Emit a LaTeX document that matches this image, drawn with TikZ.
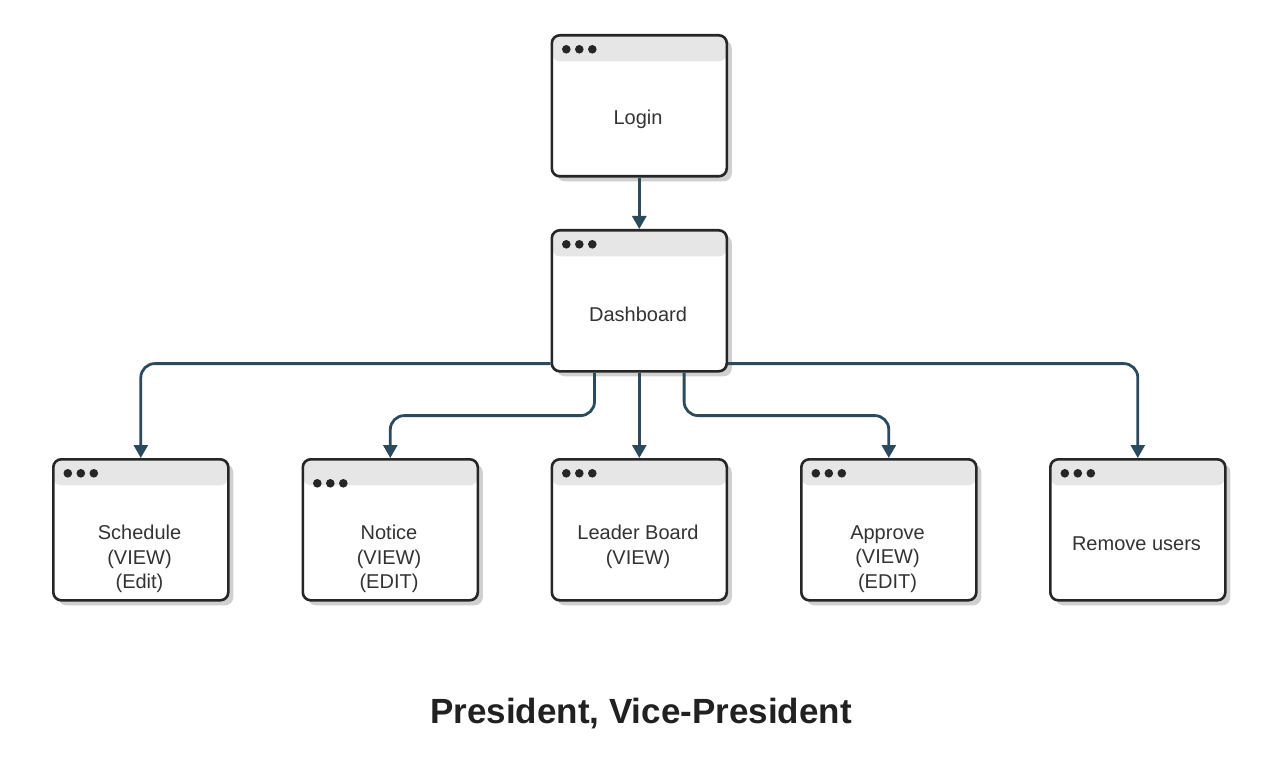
\documentclass[tikz,border=0pt]{standalone}
\usepackage{fontspec}
\setmainfont{Liberation Sans}
\usetikzlibrary{arrows.meta,shadows}
\definecolor{edgec}{HTML}{2C4A5E}
\definecolor{hdr}{HTML}{E6E6E6}
\definecolor{bord}{HTML}{262626}
\definecolor{txt}{HTML}{333333}
\definecolor{shd}{HTML}{D0D0D0}
\begin{document}
\begin{tikzpicture}[x=1pt,y=-1pt,
  win/.style={draw=bord, line width=2.6pt, fill=white, rounded corners=8pt,
    minimum width=175pt, minimum height=141pt, inner sep=0pt, anchor=north west,
    drop shadow={shadow xshift=5pt, shadow yshift=-5pt, fill=shd, opacity=1},
    path picture={
      \fill[hdr] (path picture bounding box.north west) rectangle ([yshift=-26pt]path picture bounding box.north east);
      \fill[bord] ([xshift=14.5pt,yshift=-#1pt]path picture bounding box.north west) circle (4.3pt);
      \fill[bord] ([xshift=27.5pt,yshift=-#1pt]path picture bounding box.north west) circle (4.3pt);
      \fill[bord] ([xshift=40.5pt,yshift=-#1pt]path picture bounding box.north west) circle (4.3pt);
    }},
  win/.default=14,
  lbl/.style={font=\fontsize{20}{24.5}\selectfont, text=txt, align=center, inner sep=0pt},
  conn/.style={draw=edgec, line width=2.8pt, rounded corners=14pt,
    -{Triangle[width=14pt,length=13pt]}},
]
\useasboundingbox[fill=white] (0,0) rectangle (1284,759);

\node[win] (login) at (550.5,34) {};
\node[win] (dash) at (550.5,229) {};
\node[win] (sched) at (52,458) {};
\node[win=24] (notice) at (301.5,458) {};
\node[win] (leader) at (550.5,458) {};
\node[win] (approve) at (800,458) {};
\node[win] (remove) at (1049,458) {};

\node[lbl] (tlogin) at (638,119.5) {Login};
\node[lbl] (tdash) at (638,314.5) {Dashboard};
\node[lbl] (tsched) at (139.5,559) {Schedule\\(VIEW)\\(Edit)};
\node[lbl] (tnotice) at (389,559) {Notice\\(VIEW)\\(EDIT)};
\node[lbl] (tleader) at (638,547) {Leader Board\\(VIEW)};
\node[lbl] (tapprove) at (887.5,559) {Approve\\(VIEW)\\(EDIT)};
\node[lbl] (tremove) at (1136.5,544) {Remove users};

\draw[conn] (login.south) -- (dash.north);
\draw[conn] ([yshift=9pt]dash.south west) -| (sched.north);
\draw[conn] ([xshift=44pt]dash.south west) -- ++(0,43) -| (notice.north);
\draw[conn] (dash.south) -- (leader.north);
\draw[conn] ([xshift=-44pt]dash.south east) -- ++(0,43) -| (approve.north);
\draw[conn] ([yshift=9pt]dash.south east) -| (remove.north);

\node[font=\bfseries\fontsize{35}{40}\selectfont, text=black!87] (title) at (641,714) {President, Vice-President};
\end{tikzpicture}
\end{document}
